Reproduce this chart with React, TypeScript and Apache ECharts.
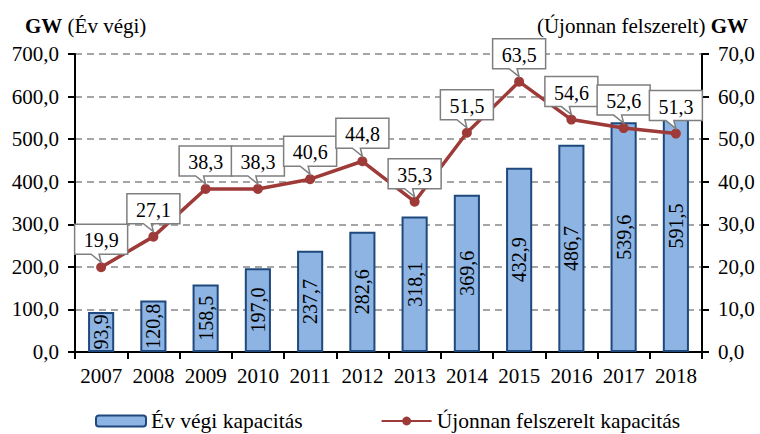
import React, { useEffect, useRef } from "react";
import * as echarts from "echarts";

const years = ["2007", "2008", "2009", "2010", "2011", "2012", "2013", "2014", "2015", "2016", "2017", "2018"];
const yearEndCapacity = [93.9, 120.8, 158.5, 197.0, 237.7, 282.6, 318.1, 369.6, 432.9, 486.7, 539.6, 591.5];
const newCapacity = [19.9, 27.1, 38.3, 38.3, 40.6, 44.8, 35.3, 51.5, 63.5, 54.6, 52.6, 51.3];

const FONT = "Liberation Serif";
const FS = 21;
const LFS = 20;
const fmt = (v: number) => v.toFixed(1).replace(".", ",");

export default function App() {
  const ref = useRef<HTMLDivElement>(null);
  useEffect(() => {
    if (!ref.current) return;
    const chart = echarts.init(ref.current, null, { renderer: "svg" });
    const calloutData = newCapacity.map((v, i) => [i, v]);
    chart.setOption({
      animation: false,
      textStyle: { fontFamily: FONT },
      grid: { left: 75, right: 58, top: 54, bottom: 82, outerBoundsMode: "none", containLabel: false },
      graphic: [
        {
          type: "text",
          left: 25,
          top: 15,
          style: {
            text: "{b|GW} (Év végi)",
            fontFamily: FONT,
            fontSize: FS,
            fill: "#000",
            rich: { b: { fontWeight: "bold", fontSize: FS, fontFamily: FONT } },
          },
        },
        {
          type: "text",
          right: 12,
          top: 15,
          style: {
            text: "(Újonnan felszerelt) {b|GW}",
            fontFamily: FONT,
            fontSize: FS,
            fill: "#000",
            rich: { b: { fontWeight: "bold", fontSize: FS, fontFamily: FONT } },
          },
        },
      ],
      legend: {
        left: 90,
        top: 405,
        itemWidth: 50,
        itemHeight: 11,
        itemGap: 78,
        textStyle: { fontFamily: FONT, fontSize: 21.5, color: "#000" },
        data: ["Év végi kapacitás", "Újonnan felszerelt kapacitás"],
      },
      xAxis: {
        type: "category",
        data: years,
        boundaryGap: true,
        axisLine: { lineStyle: { color: "#000", width: 2 } },
        axisTick: { show: true, length: 7, interval: 0, lineStyle: { color: "#000", width: 2 } },
        axisLabel: { color: "#000", fontSize: FS, fontFamily: FONT, margin: 13, interval: 0, hideOverlap: false },
      },
      yAxis: [
        {
          type: "value",
          min: 0,
          max: 700,
          interval: 100,
          axisLine: { show: true, lineStyle: { color: "#000", width: 2 } },
          axisTick: { show: true, length: 7, lineStyle: { color: "#000", width: 2 } },
          axisLabel: { color: "#000", fontSize: FS, fontFamily: FONT, margin: 16, formatter: (v: number) => fmt(v) },
          splitLine: { show: true, lineStyle: { color: "#888", width: 1.5, type: [7, 5] } },
        },
        {
          type: "value",
          min: 0,
          max: 70,
          interval: 10,
          axisLine: { show: true, lineStyle: { color: "#000", width: 2 } },
          axisTick: { show: true, length: 7, lineStyle: { color: "#000", width: 2 } },
          axisLabel: { color: "#000", fontSize: FS, fontFamily: FONT, margin: 16, formatter: (v: number) => fmt(v) },
          splitLine: { show: false },
        },
      ],
      series: [
        {
          name: "Év végi kapacitás",
          type: "bar",
          data: yearEndCapacity,
          barWidth: "50%",
          itemStyle: { color: "#8DB4E2", borderColor: "#1F497D", borderWidth: 2 },
          label: {
            show: true,
            position: "inside",
            rotate: 90,
            color: "#000",
            fontSize: LFS,
            fontFamily: FONT,
            formatter: (p: any) => fmt(p.value),
          },
          z: 2,
        },
        {
          name: "Újonnan felszerelt kapacitás",
          type: "line",
          yAxisIndex: 1,
          data: newCapacity,
          symbol: "circle",
          symbolSize: 10,
          lineStyle: { color: "#9E3A38", width: 3.5 },
          itemStyle: { color: "#9E3A38" },
          z: 3,
        },
        {
          name: "callouts",
          type: "custom",
          yAxisIndex: 1,
          data: calloutData,
          encode: { x: 0, y: 1 },
          z: 4,
          silent: true,
          renderItem: (params: any, api: any) => {
            const pt = api.coord([api.value(0), api.value(1)]);
            const w = 53;
            const h = 30;
            const cx = pt[0];
            const bottom = pt[1] - 13;
            const top = bottom - h;
            const l = cx - w / 2;
            const r = cx + w / 2;
            const points = [
              [l, top],
              [r, top],
              [r, bottom],
              [cx - 2, bottom],
              [pt[0], pt[1] - 5],
              [cx - 10, bottom],
              [l, bottom],
            ];
            return {
              type: "group",
              children: [
                {
                  type: "polygon",
                  shape: { points },
                  style: { fill: "#fff", stroke: "#7F7F7F", lineWidth: 1.5 },
                },
                {
                  type: "text",
                  x: cx,
                  y: top + h / 2 + 1,
                  style: {
                    text: fmt(api.value(1)),
                    fill: "#000",
                    fontFamily: FONT,
                    fontSize: LFS,
                    align: "center",
                    verticalAlign: "middle",
                  },
                },
              ],
            };
          },
        },
      ],
    });
    return () => chart.dispose();
  }, []);
  return <div ref={ref} style={{ width: 760, height: 434, position: "absolute", left: 0, top: 0 }} />;
}
